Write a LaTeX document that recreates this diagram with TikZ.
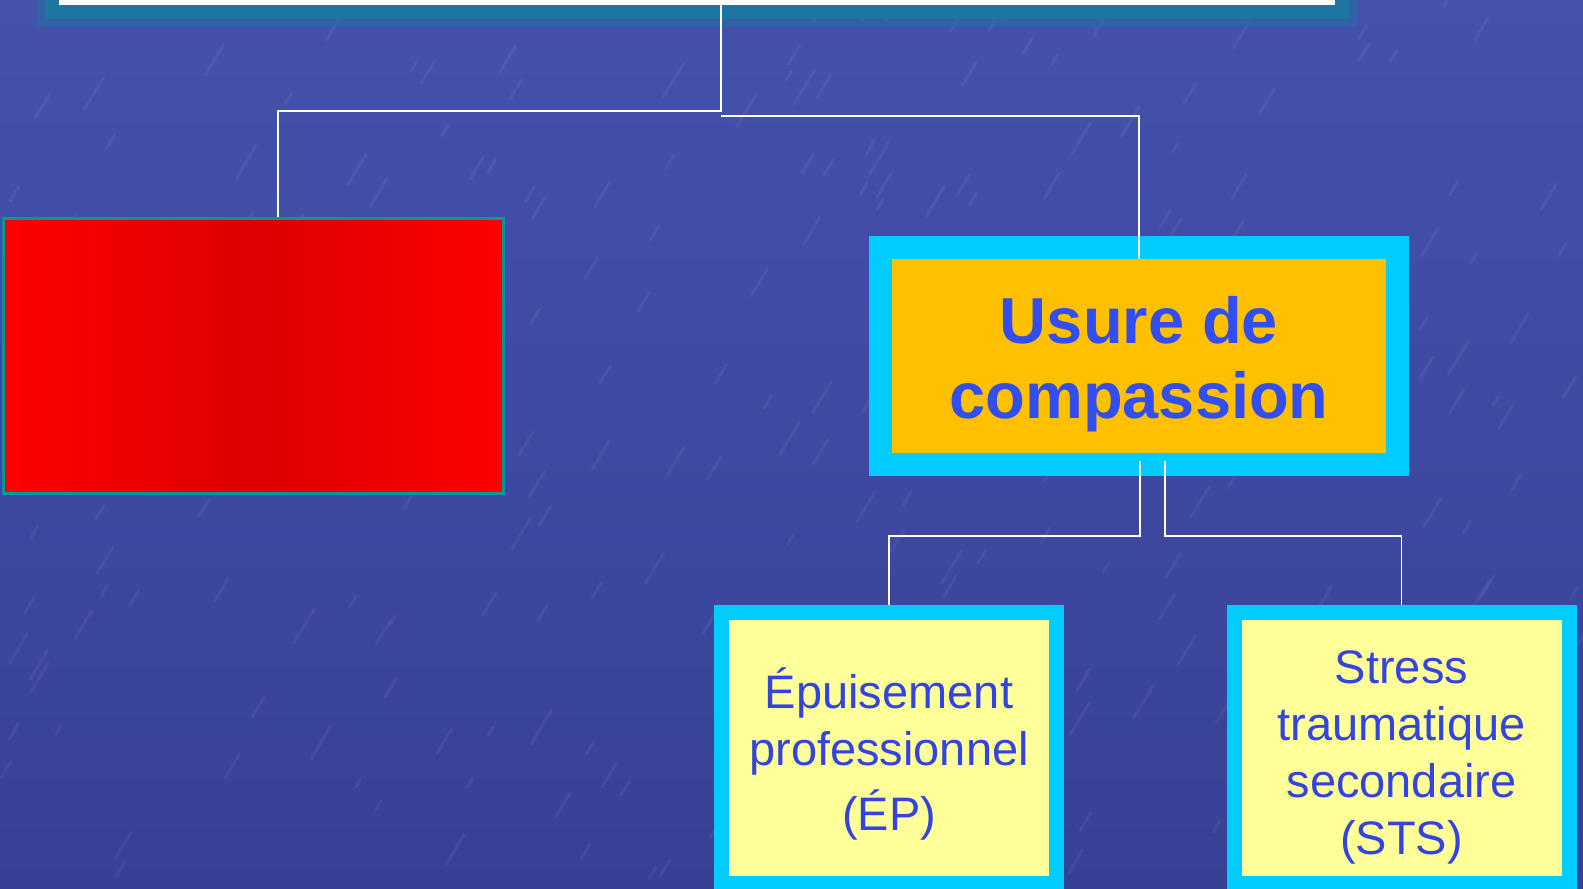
\documentclass[tikz,border=0pt]{standalone}
\usepackage{fontspec}
\setmainfont{Liberation Sans}
\usetikzlibrary{positioning}

\definecolor{fondhaut}{RGB}{68,82,172}
\definecolor{fondbas}{RGB}{56,64,150}
\definecolor{cadre}{RGB}{0,204,255}
\definecolor{orangeusure}{RGB}{255,192,0}
\definecolor{jaunepale}{RGB}{255,255,153}
\definecolor{bleutitre}{RGB}{51,78,240}
\definecolor{bleutexte}{RGB}{51,68,225}
\definecolor{bordrouge}{RGB}{0,153,153}
\definecolor{lueur}{RGB}{28,118,160}
\definecolor{rougefonce}{RGB}{220,0,0}

\tikzset{
  lien/.style={white, line width=1.6pt},
  titrebox/.style={rectangle, fill=white, minimum width=1276pt, minimum height=90pt,
    preaction={draw=lueur, opacity=0.45, line width=44pt},
    preaction={draw=lueur, line width=28pt}},
  rougebox/.style={rectangle, draw=bordrouge, line width=3pt, left color=red, right color=red,
    middle color=rougefonce, minimum width=500pt, minimum height=275pt},
  usurebox/.style={rectangle, fill=orangeusure, minimum width=494pt, minimum height=194pt,
    preaction={draw=cadre, line width=46pt}, align=center, text=bleutitre,
    font=\fontsize{65}{75}\selectfont\bfseries},
  feuille/.style={rectangle, fill=jaunepale, minimum width=320pt, minimum height=256pt,
    preaction={draw=cadre, line width=30pt}, outer sep=15pt, align=center, text=bleutexte,
    font=\fontsize{47}{57}\selectfont}
}

\begin{document}
\begin{tikzpicture}[x=1pt, y=-1pt]
  \useasboundingbox (0,0) rectangle (1583,889);
  \clip (0,0) rectangle (1583,889);
  \fill[top color=fondhaut, bottom color=fondbas] (0,0) rectangle (1583,889);
  \pgfmathsetseed{11}
  \foreach \i in {1,...,260} {
    \pgfmathsetmacro{\px}{rnd*1583}
    \pgfmathsetmacro{\py}{rnd*889}
    \pgfmathsetmacro{\lg}{8+rnd*26}
    \draw[white, opacity=0.05, line width=3pt, line cap=round] (\px,\py) -- ++(0.6*\lg,-\lg);
  }

  \node[titrebox] (titre) at (697,-40) {};
  \node[rougebox] (rouge) at (253,355.5) {};
  \node[usurebox] (usure) at (1139,356) {\rule{0pt}{63pt}Usure de\\compassion};
  \node[feuille] (ep) at (889,748) {\rule{0pt}{52pt}Épuisement\\professionnel\\[8pt](ÉP)};
  \node[feuille] (sts) at (1401.5,748) {\rule{0pt}{52pt}Stress\\traumatique\\secondaire\\(STS)};

  \draw[lien] ([xshift=24pt]titre.south) -- ++(0,106) -| ([xshift=25pt]rouge.north);
  \draw[lien] ([xshift=24pt]titre.south) ++(0,111) -| (usure.north);
  \draw[lien] ([xshift=1pt]usure.south) ++(0,8) -- ++(0,75) -| (ep.north);
  \draw[lien] ([xshift=26pt]usure.south) ++(0,8) -- ++(0,75) -| (sts.north);
\end{tikzpicture}
\end{document}
